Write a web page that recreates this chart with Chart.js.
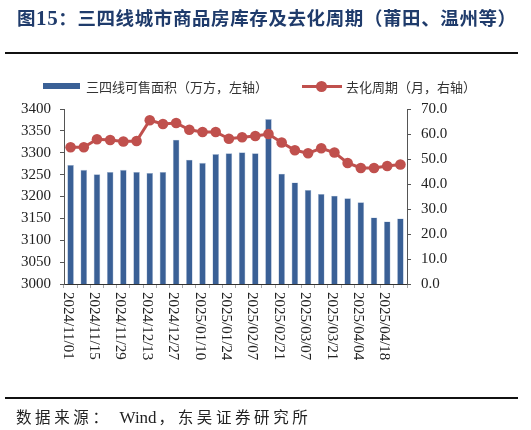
<!DOCTYPE html>
<html><head><meta charset="utf-8">
<script src="https://cdn.jsdelivr.net/npm/chart.js@4"></script>
<style>
html,body{margin:0;padding:0;background:#fff;}
#wrap{position:relative;width:531px;height:430px;overflow:hidden;}
canvas{position:absolute;left:0;top:0;}
.t{position:absolute;white-space:nowrap;}
#title{left:17px;top:4px;font:bold 18.5px "Noto Sans CJK SC";color:#1F3B6B;letter-spacing:0.6px;}
#title .n{font-family:"Liberation Serif";font-size:21px;}
.hr{position:absolute;left:5px;width:513px;height:2px;background:#111;}
.leg{font:13px "Noto Sans CJK SC";color:#333;top:77px;}
#src{left:16px;top:405px;font:15.5px "Noto Sans CJK SC";color:#222;letter-spacing:3.6px;}
#src .w{font-family:"Liberation Serif";font-size:17px;letter-spacing:0;margin:0 2px 0 8px;}
</style></head>
<body><div id="wrap">
<canvas id="c" width="531" height="430"></canvas>
<div class="t" id="title">图<span class="n">15</span>：三四线城市商品房库存及去化周期（莆田、温州等）</div>
<div class="hr" style="top:52px"></div>
<div style="position:absolute;left:43px;top:83px;width:37px;height:6px;background:#3A6096"></div>
<div class="t leg" id="leg1" style="left:86px"></div>
<div style="position:absolute;left:302px;top:85px;width:40px;height:3px;background:#C0504D"></div>
<div style="position:absolute;left:316px;top:81px;width:11px;height:11px;border-radius:50%;background:#C0504D"></div>
<div class="t leg" id="leg2" style="left:346px"></div>
<div class="hr" style="top:397px"></div>
<div class="t" id="src">数据来源：<span class="w">Wind</span>，东吴证券研究所</div>
</div>
<script>
const categories = ["2024/11/01","2024/11/08","2024/11/15","2024/11/22","2024/11/29","2024/12/06","2024/12/13","2024/12/20","2024/12/27","2025/01/03","2025/01/10","2025/01/17","2025/01/24","2025/01/31","2025/02/07","2025/02/14","2025/02/21","2025/02/28","2025/03/07","2025/03/14","2025/03/21","2025/03/28","2025/04/04","2025/04/11","2025/04/18","2025/04/25"];
const xTickLabels = ["2024/11/01","2024/11/15","2024/11/29","2024/12/13","2024/12/27","2025/01/10","2025/01/24","2025/02/07","2025/02/21","2025/03/07","2025/03/21","2025/04/04","2025/04/18"];
const saleableArea = [3272,3261,3251,3256,3261,3256,3254,3256,3330,3284,3277,3297,3299,3301,3299,3377,3252,3232,3215,3206,3202,3196,3187,3152,3143,3150];
const destockCycle = [54.7,54.7,57.9,57.6,57.0,57.2,65.5,64.0,64.4,61.7,60.8,60.8,58.1,58.7,59.2,60.0,56.6,53.5,52.3,54.3,52.6,48.4,46.4,46.4,47.2,47.8];
const barLabel = "三四线可售面积（万方，左轴）";
const lineLabel = "去化周期（月，右轴）";
const leftTicks = {min:3000,max:3400,step:50};
const rightTicks = {min:0,max:70,step:10};

document.getElementById('leg1').textContent = barLabel;
document.getElementById('leg2').textContent = lineLabel;

const W = 531, H = 430;
const axisFont = {family:"Liberation Serif", size:15};

const xLabelPlugin = {
  id:'xLabels',
  afterDraw(chart){
    const ctx = chart.ctx, xs = chart.scales.x, top = chart.chartArea.bottom + 8;
    ctx.save();
    ctx.font = '15px "Liberation Serif"';
    ctx.fillStyle = '#222';
    ctx.textAlign = 'left';
    ctx.textBaseline = 'middle';
    xTickLabels.forEach(l => {
      const i = categories.indexOf(l);
      const x = xs.getPixelForValue(i) - 3;
      ctx.save();
      ctx.translate(x, top);
      ctx.rotate(Math.PI/2);
      ctx.fillText(l, 0, 0);
      ctx.restore();
    });
    ctx.restore();
  }
};

new Chart(document.getElementById('c'), {
  data:{
    labels:categories,
    datasets:[
      {type:'line', label:lineLabel, data:destockCycle, yAxisID:'y1',
       borderColor:'#C0504D', backgroundColor:'#C0504D', borderWidth:3,
       pointRadius:5.3, pointBackgroundColor:'#C0504D', pointBorderColor:'#C0504D', pointBorderWidth:0,
       tension:0, order:0},
      {type:'bar', label:barLabel, data:saleableArea, yAxisID:'y',
       backgroundColor:'#3A6096', borderColor:'#A9BCD6', borderWidth:{left:0.6,right:0.6,top:0.6,bottom:0},
       barPercentage:0.5, categoryPercentage:1, order:1}
    ]
  },
  options:{
    responsive:false, animation:false,
    layout:{padding:{top:109,left:0,right:0,bottom:0}},
    plugins:{legend:{display:false}, tooltip:{enabled:false}},
    scales:{
      x:{
        offset:true,
        grid:{display:true, drawOnChartArea:false, drawTicks:true, tickLength:4, color:'#AAAAAA', offset:true},
        border:{display:true, color:'#333', width:1},
        ticks:{display:false},
        afterFit(s){ s.height = H - 284; }
      },
      y:{
        position:'left', min:leftTicks.min, max:leftTicks.max,
        ticks:{stepSize:leftTicks.step, font:axisFont, color:'#222', padding:9,
               callback:v => String(v)},
        grid:{drawOnChartArea:false, drawTicks:true, tickLength:4, color:'#555'},
        border:{display:true, color:'#555', width:1},
        afterFit(s){ s.width = 64; }
      },
      y1:{
        position:'right', min:rightTicks.min, max:rightTicks.max,
        ticks:{stepSize:rightTicks.step, font:axisFont, color:'#222', padding:10,
               callback:v => Number(v).toFixed(1)},
        grid:{drawOnChartArea:false, drawTicks:true, tickLength:4, color:'#555'},
        border:{display:true, color:'#555', width:1},
        afterFit(s){ s.width = W - 407; }
      }
    }
  },
  plugins:[xLabelPlugin]
});
</script>
</body></html>
